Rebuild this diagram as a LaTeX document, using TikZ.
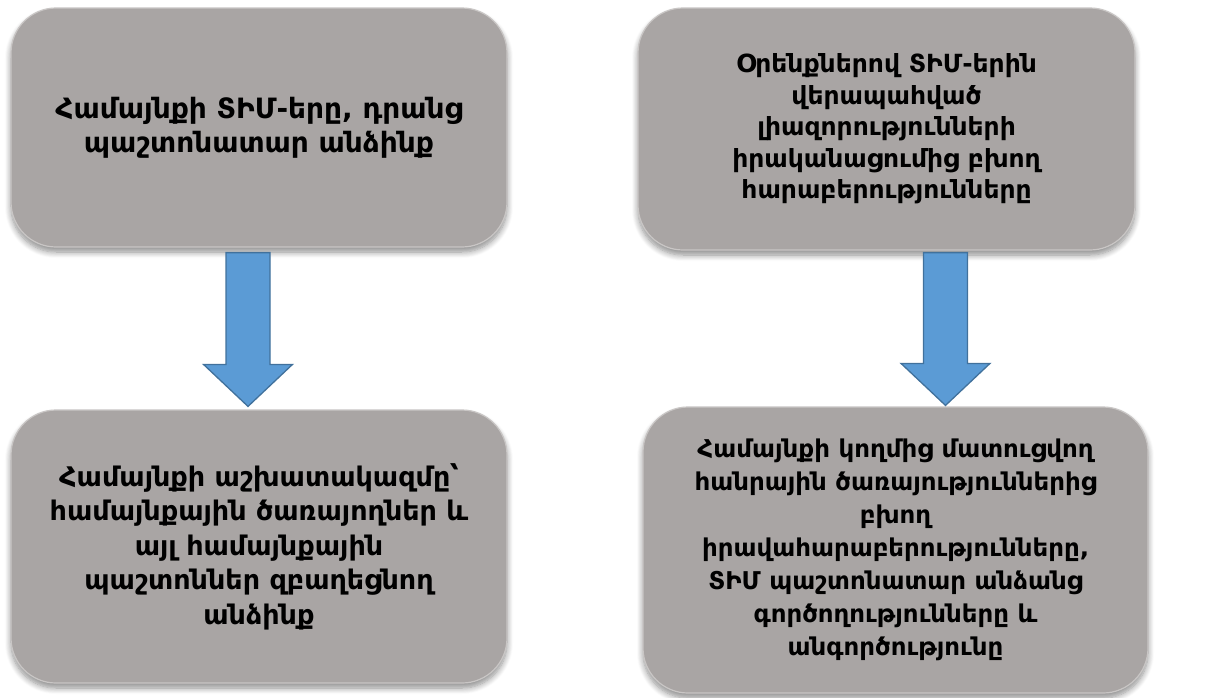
\documentclass[tikz,border=0pt]{standalone}
\usepackage{fontspec}
\setmainfont{DejaVu Sans}
\usetikzlibrary{calc,shadows.blur}

\definecolor{boxgray}{HTML}{A9A5A4}
\definecolor{boxrim}{HTML}{C9C6C5}
\definecolor{arrowfill}{HTML}{5B9BD5}
\definecolor{arrowline}{HTML}{41719C}

\tikzset{
  infobox/.style={
    rectangle, rounded corners=45pt, fill=boxgray, draw=boxrim, line width=1.2pt,
    blur shadow={shadow xshift=0pt, shadow yshift=-5pt, shadow blur radius=6pt,
                 shadow blur steps=8, shadow opacity=45},
    align=center, inner sep=0pt, text=black
  },
  textsize/.style 2 args={font=\bfseries\fontsize{#1}{#2}\selectfont},
  blockarrow/.style={fill=arrowfill, draw=arrowline, line width=1.3pt, line join=miter}
}

% block arrow from (#1) (top of the shaft) to (#2) (tip)
\newcommand{\downblockarrow}[2]{%
  \draw[blockarrow]
    ($(#1)+(-22,0)$) -- ($(#1)+(22,0)$) -- ($(#2)+(22,-42)$) --
    ($(#2)+(44.5,-42)$) -- (#2) -- ($(#2)+(-44.5,-42)$) --
    ($(#2)+(-22,-42)$) -- cycle;}

\begin{document}
\begin{tikzpicture}[x=1pt, y=-1pt]
  \useasboundingbox (0,0) rectangle (1230,697);

  \node[infobox, textsize={28}{34}, minimum width=496pt, minimum height=239pt] (b1) at (259,127.5)
    {Համայնքի ՏԻՄ-երը, դրանց\\պաշտոնատար անձինք};
  \node[infobox, textsize={25}{31.5}, minimum width=497pt, minimum height=242pt] (b2) at (886.5,129)
    {Օրենքներով ՏԻՄ-երին\\վերապահված\\լիազորությունների\\իրականացումից բխող\\հարաբերությունները};
  \node[infobox, textsize={27}{34.5}, minimum width=496pt, minimum height=273pt] (b3) at (259,546.5)
    {Համայնքի աշխատակազմը՝\\համայնքային ծառայողներ և\\այլ համայնքային\\պաշտոններ զբաղեցնող\\անձինք};
  \node[infobox, textsize={24.5}{33}, minimum width=505pt, minimum height=286pt] (b4) at (895.5,550)
    {Համայնքի կողմից մատուցվող\\հանրային ծառայություններից\\բխող\\իրավահարաբերությունները,\\ՏԻՄ պաշտոնատար անձանց\\գործողությունները և\\անգործությունը};

  % arrow ends, placed just below the upper box and touching the lower one
  \coordinate (s1) at ($(b1.south)+(-11,5)$);
  \coordinate (e1) at ($(b3.north)+(-11,-3)$);
  \coordinate (s2) at ($(b2.south)+(59,2)$);
  \coordinate (e2) at ($(b4.north)+(50,-1)$);

  \downblockarrow{s1}{e1}
  \downblockarrow{s2}{e2}
\end{tikzpicture}
\end{document}
